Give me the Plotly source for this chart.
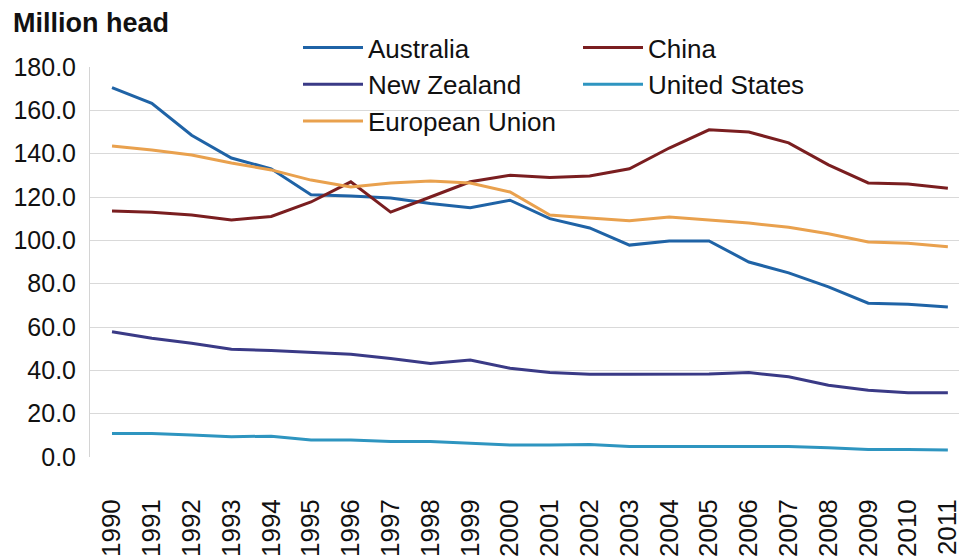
import plotly.graph_objects as go

years = [str(y) for y in range(1990, 2012)]

australia = [170.5, 163.2, 148.5, 138.0, 133.0, 121.0, 120.5, 119.5, 117.0, 115.0, 118.5,
             110.0, 105.7, 97.8, 99.7, 99.7, 90.0, 85.0, 78.5, 71.0, 70.5, 69.2]
china = [113.5, 113.0, 111.7, 109.4, 111.0, 117.7, 127.0, 113.0, 120.0, 127.0, 130.0,
         129.0, 129.7, 133.0, 142.6, 151.0, 150.0, 145.0, 134.8, 126.5, 126.0, 124.0]
new_zealand = [57.8, 54.8, 52.5, 49.7, 49.1, 48.3, 47.4, 45.5, 43.2, 44.8, 41.0,
               39.0, 38.2, 38.2, 38.2, 38.3, 39.0, 37.0, 33.1, 30.8, 29.6, 29.6]
united_states = [10.9, 10.9, 10.2, 9.4, 9.6, 7.8, 7.8, 7.1, 7.1, 6.3, 5.5,
                 5.5, 5.8, 4.8, 4.8, 4.8, 4.8, 4.8, 4.3, 3.5, 3.5, 3.2]
european_union = [143.5, 141.7, 139.4, 135.7, 132.5, 127.8, 124.6, 126.5, 127.4, 126.5, 122.3,
                  111.7, 110.3, 109.0, 110.8, 109.4, 108.0, 106.0, 103.0, 99.2, 98.6, 97.0]

y_ticks = [0, 20, 40, 60, 80, 100, 120, 140, 160, 180]
y_tick_labels = ["0.0", "20.0", "40.0", "60.0", "80.0", "100.0", "120.0", "140.0", "160.0", "180.0"]

# (name, values, colour, legend column)
series = [
    ("Australia", australia, "#1f63a6", "legend"),
    ("China", china, "#7a1e20", "legend2"),
    ("New Zealand", new_zealand, "#3a3a86", "legend"),
    ("United States", united_states, "#2e95c0", "legend2"),
    ("European Union", european_union, "#e9a14e", "legend"),
]

fig = go.Figure()
for name, vals, color, leg in series:
    fig.add_trace(go.Scatter(x=years, y=vals, name=name, mode="lines",
                             line=dict(color=color, width=3), legend=leg))

legend_common = dict(orientation="v", xref="container", yref="container",
                     xanchor="left", y=1 - 24 / 556, yanchor="top",
                     font=dict(size=26), itemwidth=60,
                     bgcolor="rgba(0,0,0,0)", traceorder="normal")

fig.update_layout(
    width=959, height=556,
    margin=dict(l=90, r=0, t=67, b=99, autoexpand=False),
    paper_bgcolor="white", plot_bgcolor="white",
    font=dict(family="Liberation Sans, Arial, sans-serif", color="#111111"),
    title=dict(text="<b>Million head</b>", x=13 / 959, xanchor="left", xref="container",
               y=1 - 23 / 556, yanchor="middle", yref="container",
               font=dict(size=27, family="Liberation Sans, Arial, sans-serif", color="#111111")),
    showlegend=True,
    legend=dict(x=298 / 959, **legend_common),
    legend2=dict(x=578 / 959, **legend_common),
)

fig.update_xaxes(type="category", range=[-0.553, 21.28], tickangle=-90,
                 tickfont=dict(size=26), showgrid=False, showline=False,
                 zeroline=False, ticks="", ticklabelstandoff=36)
fig.update_yaxes(range=[0, 180], tickvals=y_ticks, ticktext=y_tick_labels,
                 tickfont=dict(size=25), showgrid=True, gridcolor="#d9d9d9", gridwidth=1,
                 showline=True, linecolor="#d4d4d4", linewidth=1, zeroline=False,
                 ticks="", ticklabelstandoff=8)

fig.write_html("out.html")
